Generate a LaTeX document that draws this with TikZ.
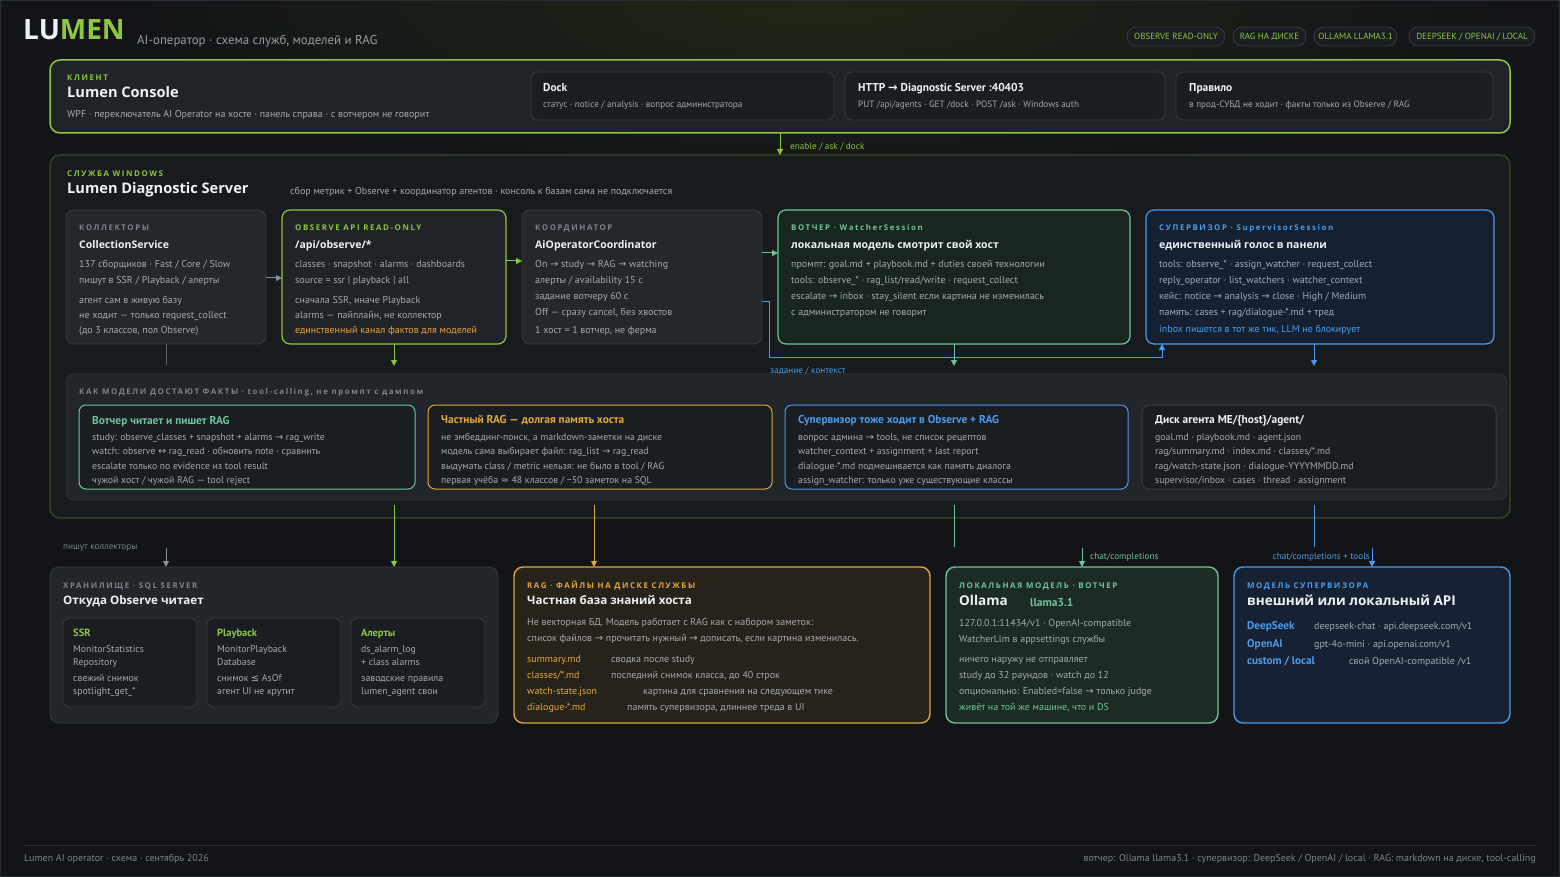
\documentclass[tikz,border=0pt]{standalone}
\usepackage{fontspec}
\usepackage{newunicodechar}
\setmainfont{PT Sans}
\newfontfamily\osf{Open Sans}
\newfontfamily\lblfam[LetterSpace=20]{Open Sans}
\newfontfamily\symf{DejaVu Sans}
\newunicodechar{→}{{\symf\char"2192}}
\newunicodechar{↔}{{\symf\char"2194}}
\newunicodechar{≤}{{\symf\char"2264}}
\newunicodechar{≈}{{\symf\char"2248}}
\usetikzlibrary{arrows.meta}
\definecolor{bg}{HTML}{121417}
\definecolor{glow}{HTML}{1E2716}
\definecolor{frame}{HTML}{2A2E34}
\definecolor{lime}{HTML}{8DC63F}
\definecolor{limedark}{HTML}{3B4826}
\definecolor{panel}{HTML}{202428}
\definecolor{card}{HTML}{24282C}
\definecolor{sub}{HTML}{1A1D21}
\definecolor{subline}{HTML}{373C43}
\definecolor{svc}{HTML}{181B1E}
\definecolor{txtg}{HTML}{A3A9B0}
\definecolor{lblg}{HTML}{7C838B}
\definecolor{wht}{HTML}{EEF1F4}
\definecolor{mint}{HTML}{6DC49B}
\definecolor{mintfill}{HTML}{18261F}
\definecolor{mintfill2}{HTML}{1C2B23}
\definecolor{blu}{HTML}{4A9CEB}
\definecolor{blufill}{HTML}{152131}
\definecolor{blufill2}{HTML}{162233}
\definecolor{amber}{HTML}{E0A73C}
\definecolor{amberfill}{HTML}{28231A}
\definecolor{orng}{HTML}{EBA03A}
\definecolor{factfill}{HTML}{22262B}
\definecolor{factline}{HTML}{2F343A}
\definecolor{grayarr}{HTML}{8A9097}
\newcommand\fBody{\fontsize{10}{12}\selectfont}
\newcommand\fFact{\fontsize{9.8}{11}\selectfont}
\newcommand\fSmall{\fontsize{9.2}{11}\selectfont}
\newcommand\fFoot{\fontsize{10}{12}\selectfont}
\newcommand\fLbl{\fontsize{7.9}{9}\lblfam\bfseries}
\newcommand\fBoxT{\fontsize{10.5}{12}\osf\bfseries}
\newcommand\fBig{\fontsize{14.6}{17}\osf\bfseries}
\newcommand\fMid{\fontsize{11.6}{13}\osf\bfseries}
\newcommand\fSubT{\fontsize{11.4}{13}\selectfont\bfseries}
\newcounter{tn}
\newcommand\tx[4][]{\stepcounter{tn}\node[txt,#1] (t\arabic{tn}) at (#2,#3) {#4};}
\newcommand\bx[6]{\node[#6, anchor=north west, minimum width=#4pt-#2pt, minimum height=#5pt-#3pt] (#1) at (#2,#3) {};}
\begin{document}
\begin{tikzpicture}[x=1pt,y=-1pt,
  txt/.style={anchor=mid west, inner sep=0pt, text=txtg, font=\fBody, yshift=-1.7pt},
  boxbase/.style={inner sep=0pt, outer sep=0pt},
  clientS/.style={boxbase, draw=lime, fill=panel, line width=1.5pt, rounded corners=10pt},
  svcS/.style={boxbase, draw=limedark, fill=svc, line width=1.2pt, rounded corners=10pt},
  subS/.style={boxbase, draw=subline, fill=sub, line width=0.8pt, rounded corners=7pt},
  grayS/.style={boxbase, draw=subline, fill=card, line width=0.8pt, rounded corners=8pt},
  obsS/.style={boxbase, draw=lime, fill=panel, line width=1.2pt, rounded corners=8pt},
  watchS/.style={boxbase, draw=mint, fill=mintfill, line width=1.2pt, rounded corners=8pt},
  supS/.style={boxbase, draw=blu, fill=blufill, line width=1.2pt, rounded corners=8pt},
  factsS/.style={boxbase, draw=factline, fill=factfill, line width=0.8pt, rounded corners=8pt},
  fboxS/.style={boxbase, fill=sub, line width=1pt, rounded corners=7pt},
  storS/.style={boxbase, draw=subline, fill=factfill, line width=0.8pt, rounded corners=9pt},
  ragS/.style={boxbase, draw=amber, fill=amberfill, line width=1.4pt, rounded corners=9pt},
  olS/.style={boxbase, draw=mint, fill=mintfill2, line width=1.4pt, rounded corners=9pt},
  smS/.style={boxbase, draw=blu, fill=blufill2, line width=1.4pt, rounded corners=9pt},
  badge/.style={draw=subline, fill=sub, rounded corners=9.5pt, minimum height=19pt, inner sep=0pt, text=lime, font=\fontsize{9}{10}\selectfont, line width=0.8pt},
  arr/.style={-{Triangle[length=6pt,width=6pt]}, line width=1pt},
  ln/.style={line width=1pt}
]
\useasboundingbox (0,0) rectangle (1560,877);
\fill[bg] (0,0) rectangle (1560,877);
\begin{scope}
\clip (0,0) rectangle (1560,877);
\shade[inner color=glow, outer color=bg] (820,0) ellipse [x radius=700, y radius=190];
\end{scope}
\draw[frame, line width=1pt] (0.5,0.5) rectangle (1559.5,876.5);

% ---------- header ----------
\tx[font=\fontsize{28}{31}\osf\bfseries]{23}{35}{\textcolor{wht}{LU}\textcolor{lime}{MEN}}
\tx[font=\fontsize{12.9}{15}\selectfont, text=lblg!80!white]{137}{40}{AI-оператор · схема служб, моделей и RAG}
\node[badge, minimum width=98pt] (b1) at (1176,36.5) {OBSERVE READ-ONLY};
\node[badge, minimum width=73pt] (b2) at (1269.5,36.5) {RAG НА ДИСКЕ};
\node[badge, minimum width=83pt] (b3) at (1355.5,36.5) {OLLAMA LLAMA3.1};
\node[badge, minimum width=126pt] (b4) at (1472,36.5) {DEEPSEEK / OPENAI / LOCAL};

% ---------- boxes ----------
\bx{client}{50}{60}{1510}{133}{clientS}
\bx{dock}{531}{72}{834}{120}{subS}
\bx{http}{845}{72}{1165}{120}{subS}
\bx{rule}{1176}{72}{1493}{120}{subS}

\bx{svc}{50}{155}{1510}{518}{svcS}
\bx{coll}{66}{210}{266}{344}{grayS}
\bx{obs}{282}{210}{506}{344}{obsS}
\bx{coord}{522}{210}{762}{344}{grayS}
\bx{watch}{778}{210}{1130}{344}{watchS}
\bx{sup}{1146}{210}{1494}{344}{supS}

\bx{facts}{66}{374}{1507}{500}{factsS}
\bx{f1}{79}{405}{415}{489}{fboxS, draw=mint}
\bx{f2}{428}{405}{772}{489}{fboxS, draw=amber}
\bx{f3}{785}{405}{1128}{489}{fboxS, draw=blu}
\bx{f4}{1142}{405}{1496}{489}{fboxS, draw=subline}

\bx{stor}{50}{567}{498}{723}{storS}
\bx{ssr}{63}{618}{197}{707}{subS}
\bx{play}{207}{618}{341}{707}{subS}
\bx{alrt}{351}{618}{485}{707}{subS}
\bx{rag}{514}{567}{930}{723}{ragS}
\bx{oll}{946}{567}{1218}{723}{olS}
\bx{smod}{1234}{567}{1510}{723}{smS}

% ---------- connectors ----------
\draw[arr, draw=lime] (client.south -| 780,0) -- (svc.north -| 780,0);
\draw[arr, draw=grayarr] (coll.east |- 0,278) -- (obs.west |- 0,278);
\draw[arr, draw=lime] (obs.east |- 0,261) -- (coord.west |- 0,261);
\draw[arr, draw=mint] (coord.east |- 0,253) -- (watch.west |- 0,253);
\draw[arr, draw=blu] (coord.east |- 0,301) -- (769,301) -- (769,357) -- (1162,357) -- (sup.south -| 1162,0);
\coordinate (d1) at (166,365);
\coordinate (d2) at (394,366);
\coordinate (d3) at (954,366);
\coordinate (d4) at (1314,366);
\draw[ln, draw=grayarr!70!black] (coll.south -| d1) -- (d1);
\draw[arr, draw=lime] (obs.south -| d2) -- (d2);
\draw[arr, draw=mint] (watch.south -| d3) -- (d3);
\draw[arr, draw=blu] (sup.south -| d4) -- (d4);

\coordinate (u1) at (394,505);
\coordinate (u2) at (594,505);
\coordinate (u3) at (954,505);
\coordinate (u4) at (1314,505);
\coordinate (m3) at (954,547);
\coordinate (m4) at (1314,547);
\coordinate (s1) at (166,548);
\coordinate (s3) at (1082,548);
\coordinate (s4) at (1372,548);
\draw[arr, draw=lime] (u1) -- (stor.north -| u1);
\draw[arr, draw=amber] (u2) -- (rag.north -| u2);
\draw[ln, draw=mint] (u3) -- (m3);
\draw[ln, draw=blu] (u4) -- (m4);
\draw[arr, draw=grayarr] (s1) -- (stor.north -| s1);
\draw[arr, draw=mint] (s3) -- (oll.north -| s3);
\draw[arr, draw=blu] (s4) -- (smod.north -| s4);

% ---------- client texts ----------
\tx[font=\fLbl, text=lime]{67}{76}{КЛИЕНТ}
\tx[font=\fBig, text=wht]{67}{93}{Lumen Console}
\tx{67}{113}{WPF · переключатель AI Operator на хосте · панель справа · с вотчером не говорит}
\tx[font=\fSubT, text=wht]{543}{87}{Dock}
\tx[font=\fSmall]{543}{103}{статус · notice / analysis · вопрос администратора}
\tx[font=\fSubT, text=wht]{858}{87}{HTTP → Diagnostic Server :40403}
\tx[font=\fSmall]{858}{103}{PUT /api/agents · GET /dock · POST /ask · Windows auth}
\tx[font=\fSubT, text=wht]{1189}{87}{Правило}
\tx[font=\fSmall]{1189}{103}{в прод-СУБД не ходит · факты только из Observe / RAG}
\tx[font=\fSmall, text=lime]{790}{145}{enable / ask / dock}

% ---------- service texts ----------
\tx[font=\fLbl, text=lime]{67}{172}{СЛУЖБА WINDOWS}
\tx[font=\fBig, text=wht]{67}{189}{Lumen Diagnostic Server}
\tx{290}{190}{сбор метрик + Observe + координатор агентов · консоль к базам сама не подключается}

\tx[font=\fLbl, text=lblg]{79}{226}{КОЛЛЕКТОРЫ}
\tx[font=\fBoxT, text=wht]{79}{244}{CollectionService}
\tx{79}{263}{137 сборщиков · Fast / Core / Slow}
\tx{79}{279}{пишут в SSR / Playback / алерты}
\tx{79}{299}{агент сам в живую базу}
\tx{79}{314}{не ходит — только request\_collect}
\tx{79}{329}{(до 3 классов, пол Observe)}

\tx[font=\fLbl, text=lime]{295}{226}{OBSERVE API READ-ONLY}
\tx[font=\fBoxT, text=wht]{295}{244}{/api/observe/*}
\tx{295}{263}{classes · snapshot · alarms · dashboards}
\tx{295}{279}{source = ssr | playback | all}
\tx{295}{299}{сначала SSR, иначе Playback}
\tx{295}{314}{alarms — пайплайн, не коллектор}
\tx[text=orng]{295}{329}{единственный канал фактов для моделей}

\tx[font=\fLbl, text=lblg]{535}{226}{КООРДИНАТОР}
\tx[font=\fBoxT, text=wht]{535}{244}{AiOperatorCoordinator}
\tx{535}{263}{On → study → RAG → watching}
\tx{535}{279}{алерты / availability 15 с}
\tx{535}{295}{задание вотчеру 60 с}
\tx{535}{311}{Off — сразу cancel, без хвостов}
\tx{535}{329}{1 хост = 1 вотчер, не ферма}

\tx[font=\fLbl, text=mint]{791}{226}{ВОТЧЕР · WatcherSession}
\tx[font=\fBoxT, text=wht]{791}{244}{локальная модель смотрит свой хост}
\tx{791}{263}{промпт: goal.md + playbook.md + duties своей технологии}
\tx{791}{279}{tools: observe\_* · rag\_list/read/write · request\_collect}
\tx{791}{295}{escalate → inbox · stay\_silent если картина не изменилась}
\tx{791}{311}{с администратором не говорит}

\tx[font=\fLbl, text=blu]{1159}{226}{СУПЕРВИЗОР · SupervisorSession}
\tx[font=\fBoxT, text=wht]{1159}{244}{единственный голос в панели}
\tx{1159}{263}{tools: observe\_* · assign\_watcher · request\_collect}
\tx{1159}{279}{reply\_operator · list\_watchers · watcher\_context}
\tx{1159}{295}{кейс: notice → analysis → close · High / Medium}
\tx{1159}{311}{память: cases + rag/dialogue-*.md + тред}
\tx[text=blu]{1159}{328}{inbox пишется в тот же тик, LLM не блокирует}

\tx[font=\fSmall, text=blu]{770}{369}{задание / контекст}

% ---------- facts ----------
\tx[font=\fLbl, text=lblg]{79}{390}{КАК МОДЕЛИ ДОСТАЮТ ФАКТЫ · tool-calling, не промпт с дампом}
\tx[font=\fSubT, text=mint]{92}{420}{Вотчер читает и пишет RAG}
\tx[font=\fFact]{92}{436}{study: observe\_classes + snapshot + alarms → rag\_write}
\tx[font=\fFact]{92}{450}{watch: observe ↔ rag\_read · обновить note · сравнить}
\tx[font=\fFact]{92}{465}{escalate только по evidence из tool result}
\tx[font=\fFact]{92}{479}{чужой хост / чужой RAG — tool reject}

\tx[font=\fSubT, text=amber]{441}{419}{Частный RAG — долгая память хоста}
\tx[font=\fFact]{441}{436}{не эмбеддинг-поиск, а markdown-заметки на диске}
\tx[font=\fFact]{441}{450}{модель сама выбирает файл: rag\_list → rag\_read}
\tx[font=\fFact]{441}{465}{выдумать class / metric нельзя: не было в tool / RAG}
\tx[font=\fFact]{441}{479}{первая учёба ≈ 48 классов / \textasciitilde 50 заметок на SQL}

\tx[font=\fSubT, text=blu]{798}{419}{Супервизор тоже ходит в Observe + RAG}
\tx[font=\fFact]{798}{436}{вопрос админа → tools, не список рецептов}
\tx[font=\fFact]{798}{450}{watcher\_context + assignment + last report}
\tx[font=\fFact]{798}{465}{dialogue-*.md подмешивается как память диалога}
\tx[font=\fFact]{798}{479}{assign\_watcher: только уже существующие классы}

\tx[font=\fSubT, text=wht]{1155}{419}{Диск агента ME/\{host\}/agent/}
\tx[font=\fFact]{1155}{436}{goal.md · playbook.md · agent.json}
\tx[font=\fFact]{1155}{450}{rag/summary.md · index.md · classes/*.md}
\tx[font=\fFact]{1155}{465}{rag/watch-state.json · dialogue-YYYYMMDD.md}
\tx[font=\fFact]{1155}{479}{supervisor/inbox · cases · thread · assignment}

% ---------- lower labels ----------
\tx[font=\fSmall, text=lblg]{63}{545}{пишут коллекторы}
\tx[font=\fSmall, text=mint]{1090}{555}{chat/completions}
\tx[font=\fSmall, text=blu, anchor=mid east]{1370}{555}{chat/completions + tools}

% ---------- storage ----------
\tx[font=\fLbl, text=lblg]{63}{584}{ХРАНИЛИЩЕ · SQL SERVER}
\tx[font=\fMid, text=wht]{63}{600}{Откуда Observe читает}
\tx[font=\fontsize{10.5}{12}\selectfont\bfseries, text=lime]{73}{632}{SSR}
\tx[font=\fFact]{73}{648}{MonitorStatistics}
\tx[font=\fFact]{73}{661}{Repository}
\tx[font=\fFact]{73}{677}{свежий снимок}
\tx[font=\fFact]{73}{690}{spotlight\_get\_*}
\tx[font=\fontsize{10.5}{12}\selectfont\bfseries, text=lime]{217}{632}{Playback}
\tx[font=\fFact]{217}{648}{MonitorPlayback}
\tx[font=\fFact]{217}{661}{Database}
\tx[font=\fFact]{217}{677}{снимок ≤ AsOf}
\tx[font=\fFact]{217}{690}{агент UI не крутит}
\tx[font=\fontsize{10.5}{12}\selectfont\bfseries, text=lime]{361}{632}{Алерты}
\tx[font=\fFact]{361}{648}{ds\_alarm\_log}
\tx[font=\fFact]{361}{661}{+ class alarms}
\tx[font=\fFact]{361}{677}{заводские правила}
\tx[font=\fFact]{361}{690}{lumen\_agent свои}

% ---------- RAG ----------
\tx[font=\fLbl, text=amber]{527}{584}{RAG · ФАЙЛЫ НА ДИСКЕ СЛУЖБЫ}
\tx[font=\fMid, text=wht]{527}{600}{Частная база знаний хоста}
\tx{527}{621}{Не векторная БД. Модель работает с RAG как с набором заметок:}
\tx{527}{637}{список файлов → прочитать нужный → дописать, если картина изменилась.}
\tx[text=amber]{527}{658}{summary.md}
\tx{611}{658}{сводка после study}
\tx[text=amber]{527}{674}{classes/*.md}
\tx{611}{674}{последний снимок класса, до 40 строк}
\tx[text=amber]{527}{690}{watch-state.json}
\tx{643}{690}{картина для сравнения на следующем тике}
\tx[text=amber]{527}{706}{dialogue-*.md}
\tx{627}{706}{память супервизора, длиннее треда в UI}

% ---------- Ollama ----------
\tx[font=\fLbl, text=mint]{959}{584}{ЛОКАЛЬНАЯ МОДЕЛЬ · ВОТЧЕР}
\tx[font=\fontsize{13.5}{15}\osf\bfseries, text=wht]{959}{601}{Ollama}
\tx[font=\fontsize{11.5}{13}\selectfont\bfseries, text=mint]{1030}{602}{llama3.1}
\tx{959}{622}{127.0.0.1:11434/v1 · OpenAI-compatible}
\tx{959}{638}{WatcherLlm в appsettings службы}
\tx{959}{658}{ничего наружу не отправляет}
\tx{959}{674}{study до 32 раундов · watch до 12}
\tx{959}{690}{опционально: Enabled=false → только judge}
\tx[text=mint]{959}{706}{живёт на той же машине, что и DS}

% ---------- supervisor model ----------
\tx[font=\fLbl, text=blu]{1247}{584}{МОДЕЛЬ СУПЕРВИЗОРА}
\tx[font=\fontsize{13.5}{15}\osf\bfseries, text=wht]{1247}{601}{внешний или локальный API}
\tx[font=\fontsize{11.2}{13}\selectfont\bfseries, text=blu]{1247}{625}{DeepSeek}
\tx{1314}{625}{deepseek-chat · api.deepseek.com/v1}
\tx[font=\fontsize{11.2}{13}\selectfont\bfseries, text=blu]{1247}{643}{OpenAI}
\tx{1314}{643}{gpt-4o-mini · api.openai.com/v1}
\tx[font=\fontsize{11.2}{13}\selectfont\bfseries, text=blu]{1247}{660}{custom / local}
\tx{1349}{660}{свой OpenAI-compatible /v1}

% ---------- footer ----------
\draw[frame, line width=1pt] (24,845) -- (1536,845);
\tx[font=\fFoot, text=lblg]{24}{857}{Lumen AI operator · схема · сентябрь 2026}
\tx[font=\fFoot, text=lblg, anchor=mid east]{1536}{857}{вотчер: Ollama llama3.1 · супервизор: DeepSeek / OpenAI / local · RAG: markdown на диске, tool-calling}
\end{tikzpicture}
\end{document}
